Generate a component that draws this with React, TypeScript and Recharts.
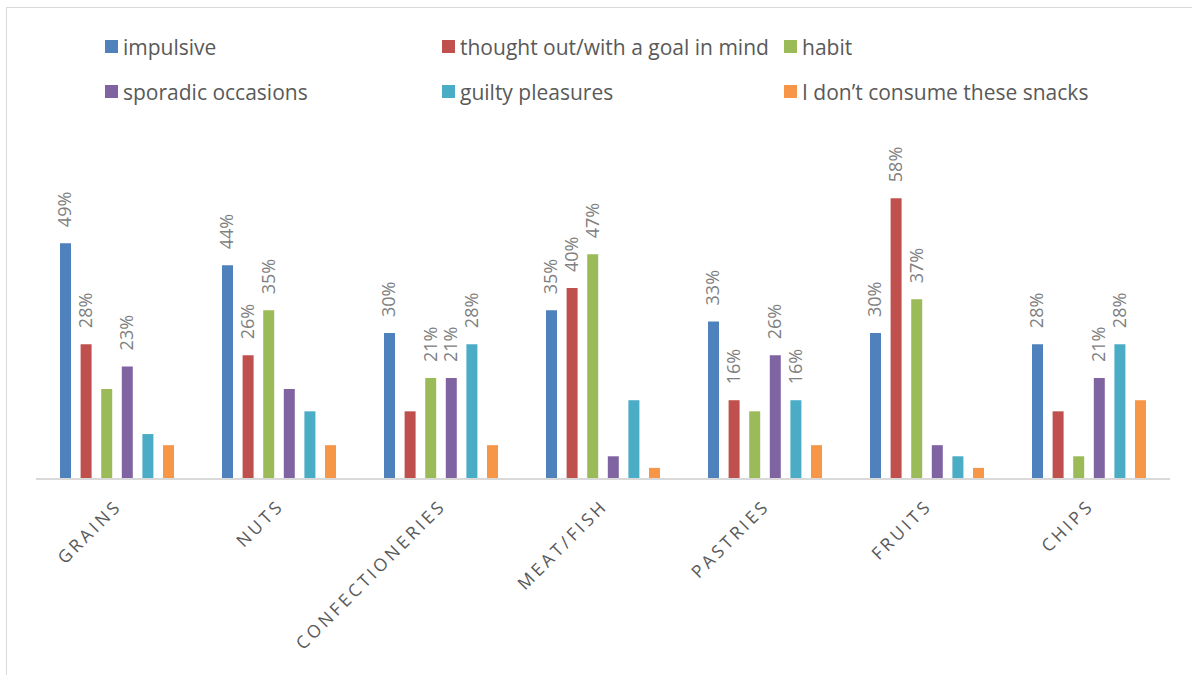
import React from 'react';
import { BarChart, Bar, XAxis, YAxis, LabelList } from 'recharts';

const categories = ['GRAINS', 'NUTS', 'CONFECTIONERIES', 'MEAT/FISH', 'PASTRIES', 'FRUITS', 'CHIPS'];
const seriesNames = [
  'impulsive',
  'thought out/with a goal in mind',
  'habit',
  'sporadic occasions',
  'guilty pleasures',
  'I don\u2019t consume these snacks',
];
const seriesColors = ['#4F81BD', '#C0504D', '#9BBB59', '#8064A2', '#4BACC6', '#F79646'];

const impulsive = [48.8, 44.2, 30.2, 34.9, 32.6, 30.2, 27.9];
const thoughtOut = [27.9, 25.6, 14.0, 39.5, 16.3, 58.1, 14.0];
const habit = [18.6, 34.9, 20.9, 46.5, 14.0, 37.2, 4.7];
const sporadic = [23.3, 18.6, 20.9, 4.7, 25.6, 7.0, 20.9];
const guilty = [9.3, 14.0, 27.9, 16.3, 16.3, 4.7, 27.9];
const dontConsume = [7.0, 7.0, 7.0, 2.3, 7.0, 2.3, 16.3];

// which data labels are displayed in the reference (1 = shown)
const impulsiveShown = [1, 1, 1, 1, 1, 1, 1];
const thoughtOutShown = [1, 1, 0, 1, 1, 1, 0];
const habitShown = [0, 1, 1, 1, 0, 1, 0];
const sporadicShown = [1, 0, 1, 0, 1, 0, 1];
const guiltyShown = [0, 0, 1, 0, 1, 0, 1];
const dontConsumeShown = [0, 0, 0, 0, 0, 0, 0];

const seriesValues = [impulsive, thoughtOut, habit, sporadic, guilty, dontConsume];
const seriesShown = [impulsiveShown, thoughtOutShown, habitShown, sporadicShown, guiltyShown, dontConsumeShown];
const keys = ['s0', 's1', 's2', 's3', 's4', 's5'];

const data = categories.map((c, i) => {
  const row: any = { name: c };
  keys.forEach((k, j) => {
    row[k] = seriesValues[j][i];
  });
  return row;
});

const FONT = '"Open Sans", "DejaVu Sans", sans-serif';

const makeLabel = (j: number) => (props: any) => {
  const { x, y, width, value, index } = props;
  if (!seriesShown[j][index]) return null;
  const cx = x + width / 2 + 6;
  const cy = y - 16;
  return (
    <text
      x={cx}
      y={cy}
      transform={`rotate(-90 ${cx} ${cy})`}
      fill="#808080"
      fontSize={18}
      fontFamily={FONT}
      textAnchor="start"
    >
      {Math.round(value) + '%'}
    </text>
  );
};

const CatTick = (props: any) => {
  const { x, y, payload } = props;
  return (
    <g transform={`translate(${x + 6},${y + 20})`}>
      <text
        x={0}
        y={0}
        transform="rotate(-45)"
        textAnchor="end"
        fill="#595959"
        fontSize={17.5}
        fontFamily={FONT}
        letterSpacing={3.3}
      >
        {payload.value}
      </text>
    </g>
  );
};

const legendCols = [105, 442, 784];
const legendRows = [39, 84];

export default function App() {
  return (
    <div style={{ position: 'absolute', left: 0, top: 0, width: 1192, height: 675, background: '#fff', overflow: 'hidden' }}>
      <div
        style={{
          position: 'absolute',
          left: 6,
          top: 7,
          width: 1200,
          height: 700,
          border: '1.5px solid #d9d9d9',
          boxSizing: 'border-box',
        }}
      />
      {seriesNames.map((n, j) => (
        <div
          key={n}
          style={{
            position: 'absolute',
            left: legendCols[j % 3],
            top: legendRows[Math.floor(j / 3)],
            height: 15,
            display: 'flex',
            alignItems: 'center',
            fontFamily: FONT,
            fontSize: 21,
            color: '#595959',
            whiteSpace: 'nowrap',
          }}
        >
          <span style={{ display: 'inline-block', width: 13, height: 13, background: seriesColors[j], marginRight: 5 }} />
          <span>{n}</span>
        </div>
      ))}
      <div style={{ position: 'absolute', left: 0, top: 0 }}>
        <BarChart
          width={1192}
          height={675}
          data={data}
          margin={{ top: 189, right: 22, left: 36, bottom: 0 }}
          barGap={9.6}
        >
          <XAxis
            dataKey="name"
            tick={<CatTick />}
            tickLine={false}
            axisLine={{ stroke: '#d9d9d9', strokeWidth: 2 }}
            height={196}
            interval={0}
          />
          <YAxis hide domain={[0, 60]} />
          {keys.map((k, j) => (
            <Bar key={k} dataKey={k} name={seriesNames[j]} fill={seriesColors[j]} barSize={11} isAnimationActive={false}>
              <LabelList dataKey={k} content={makeLabel(j)} />
            </Bar>
          ))}
        </BarChart>
      </div>
    </div>
  );
}
